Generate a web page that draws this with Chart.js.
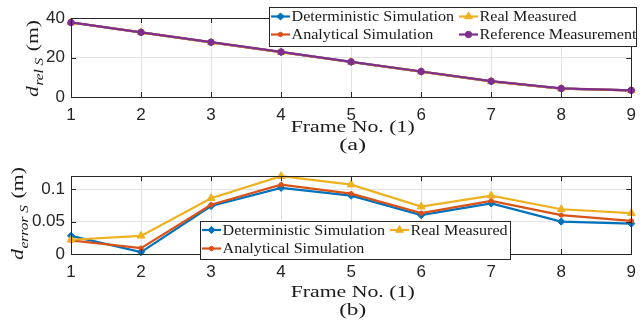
<!DOCTYPE html>
<html>
<head>
<meta charset="utf-8">
<script src="https://cdn.jsdelivr.net/npm/chart.js@4.4.1/dist/chart.umd.min.js"></script>
<style>
    html, body { margin: 0; padding: 0; background: #fff; }
    #wrap { position: relative; width: 644px; height: 328px; overflow: hidden; }
    #chartRel { position: absolute; left: 0; top: 0; }
    #chartErr { position: absolute; left: 0; top: 160px; }
</style>
</head>
<body>
<div id="wrap">
    <canvas id="chartRel" width="644" height="168"></canvas>
    <canvas id="chartErr" width="644" height="168"></canvas>
</div>
<script>
// frame numbers
const frames = ['1', '2', '3', '4', '5', '6', '7', '8', '9'];

// relative distance (m)
const relDeterministic = [37.72, 32.74, 27.68, 22.72, 17.74, 12.86, 7.95, 4.27, 3.33];
const relAnalytical = [37.73, 32.75, 27.67, 22.72, 17.73, 12.86, 7.94, 4.26, 3.33];
const relReal = [37.73, 32.74, 27.66, 22.71, 17.72, 12.85, 7.93, 4.25, 3.32];
const relReference = [37.75, 32.75, 27.75, 22.82, 17.82, 12.92, 8.02, 4.32, 3.38];

// error distance (m)
const errDeterministic = [0.028, 0.003, 0.074, 0.102, 0.090, 0.060, 0.078, 0.050, 0.047];
const errAnalytical = [0.021, 0.009, 0.076, 0.107, 0.093, 0.063, 0.082, 0.060, 0.051];
const errReal = [0.022, 0.028, 0.086, 0.120, 0.107, 0.073, 0.090, 0.069, 0.063];

const SERIF = '"Liberation Serif", "DejaVu Serif", serif';
const SANS = '"Liberation Sans", Arial, sans-serif';
const AXIS = '#262626';
const GRID = '#e2e2e2';
const TEXT = '#1a1a1a';
const LEGEND_STRETCH = 1.12;

// order: lower value is painted on top
const styles = {
    det: { label: 'Deterministic Simulation', color: '#0072BD', pointStyle: 'rectRot', radius: 3.6, order: 3 },
    ana: { label: 'Analytical Simulation', color: '#D95319', pointStyle: 'circle', radius: 2.2, order: 2 },
    real: { label: 'Real Measured', color: '#EDB120', pointStyle: 'triangle', radius: 4.5, order: 1 },
    ref: { label: 'Reference Measurement', color: '#7E2F8E', pointStyle: 'circle', radius: 3.2, order: 0 }
};

const makeSet = function (key, data) {
    let s = styles[key];
    return {
        label: s.label,
        data: data,
        order: s.order,
        borderColor: s.color,
        backgroundColor: s.color,
        pointBackgroundColor: s.color,
        pointBorderColor: s.color,
        pointStyle: s.pointStyle,
        pointRadius: s.radius,
        pointBorderWidth: 1,
        borderWidth: 2.2,
        tension: 0,
        clip: false
    };
};

// text squeezed/stretched to a given width, centred on x
const fitText = function (ctx, text, x, y, font, width) {
    ctx.save();
    ctx.font = font;
    let k = width / ctx.measureText(text).width;
    ctx.translate(x - width / 2, y);
    ctx.scale(k, 1);
    ctx.textAlign = 'left';
    ctx.fillText(text, 0, 0);
    ctx.restore();
};

// y label: italic d with subscript, then upright unit
const drawYTitle = function (ctx, x, yc, len, sub, size) {
    ctx.save();
    ctx.translate(x, yc);
    ctx.rotate(-Math.PI / 2);
    ctx.fillStyle = TEXT;
    ctx.textBaseline = 'alphabetic';
    ctx.textAlign = 'left';
    let fMain = 'italic ' + size + 'px ' + SERIF;
    let fSub = 'italic ' + Math.round(size * 0.72) + 'px ' + SERIF;
    let fUp = size + 'px ' + SERIF;
    ctx.font = fMain; let wd = ctx.measureText('d').width + 0.5;
    ctx.font = fSub; let ws = ctx.measureText(sub).width + 1;
    ctx.font = fUp; let wm = ctx.measureText(' (m)').width;
    let k = len / (wd + ws + wm);
    ctx.translate(-len / 2, 0);
    ctx.scale(k, 1);
    ctx.font = fMain; ctx.fillText('d', 0, 0);
    ctx.font = fSub; ctx.fillText(sub, wd, size * 0.3);
    ctx.font = fUp; ctx.fillText(' (m)', wd + ws, 0);
    ctx.restore();
};

const drawLegend = function (ctx, lg) {
    ctx.save();
    ctx.fillStyle = '#fff';
    ctx.fillRect(lg.box[0], lg.box[1], lg.box[2], lg.box[3]);
    ctx.strokeStyle = AXIS;
    ctx.lineWidth = 1;
    ctx.strokeRect(lg.box[0] + 0.5, lg.box[1] + 0.5, lg.box[2], lg.box[3]);
    ctx.textBaseline = 'middle';
    lg.items.forEach((it) => {
        let s = styles[it.key];
        let x = lg.colX[it.col], y = lg.rowY[it.row];
        ctx.strokeStyle = s.color;
        ctx.fillStyle = s.color;
        ctx.lineWidth = 2.2;
        ctx.beginPath();
        ctx.moveTo(x, y);
        ctx.lineTo(x + lg.sampleW, y);
        ctx.stroke();
        ctx.lineWidth = 1;
        Chart.helpers.drawPoint(ctx, { pointStyle: s.pointStyle, radius: s.radius, rotation: 0, borderWidth: 1 }, x + lg.sampleW / 2, y);
        ctx.fillStyle = TEXT;
        ctx.font = lg.fontSize + 'px ' + SERIF;
        let w = ctx.measureText(s.label).width * LEGEND_STRETCH;
        fitText(ctx, s.label, x + lg.sampleW + 1.5 + w / 2, y + 1, ctx.font, w);
    });
    ctx.restore();
};

// box, inward ticks, titles, legend
const matlabAxes = {
    id: 'matlabAxes',
    afterDraw(chart, args, opts) {
        const ctx = chart.ctx;
        const a = chart.chartArea;
        const xs = chart.scales.x, ys = chart.scales.y;
        ctx.save();
        ctx.strokeStyle = AXIS;
        ctx.lineWidth = 1;
        ctx.beginPath();
        xs.ticks.forEach((t, i) => {
            let px = Math.round(xs.getPixelForTick(i)) + 0.5;
            ctx.moveTo(px, a.bottom); ctx.lineTo(px, a.bottom - 5);
            ctx.moveTo(px, a.top); ctx.lineTo(px, a.top + 5);
        });
        ys.ticks.forEach((t, i) => {
            let py = Math.round(ys.getPixelForTick(i)) + 0.5;
            ctx.moveTo(a.left, py); ctx.lineTo(a.left + 5, py);
            ctx.moveTo(a.right, py); ctx.lineTo(a.right - 5, py);
        });
        ctx.stroke();
        ctx.strokeRect(Math.round(a.left) + 0.5, Math.round(a.top) + 0.5, Math.round(a.right - a.left), Math.round(a.bottom - a.top));

        ctx.fillStyle = TEXT;
        ctx.textBaseline = 'alphabetic';
        let cx = (a.left + a.right) / 2 + 1.5;
        let f = opts.titleSize + 'px ' + SERIF;
        fitText(ctx, 'Frame No. (1)', cx, opts.xTitleY, f, 124);
        fitText(ctx, opts.caption, cx, opts.captionY, f, opts.captionW);
        ctx.restore();

        drawYTitle(ctx, opts.yTitleX, opts.yTitleC, opts.yTitleLen, opts.ySub, opts.titleSize);
        drawLegend(ctx, opts.legend);
    }
};

const buildOptions = function (ymax, step, padTop, xHeight, fmt, extra) {
    return {
        responsive: false,
        animation: false,
        layout: { padding: { top: padTop, right: 8, left: 0, bottom: 0 } },
        plugins: {
            legend: { display: false },
            tooltip: { enabled: false },
            matlabAxes: extra
        },
        scales: {
            x: {
                type: 'category',
                offset: false,
                afterFit: (s) => { s.height = xHeight; },
                grid: { color: GRID, drawTicks: false },
                border: { display: false },
                ticks: { color: AXIS, padding: 8, font: { family: SANS, size: 17 }, maxRotation: 0 }
            },
            y: {
                min: 0,
                max: ymax,
                afterFit: (s) => { s.width = 71; },
                grid: { color: GRID, drawTicks: false },
                border: { display: false },
                ticks: { stepSize: step, includeBounds: false, color: AXIS, padding: 6, font: { family: SANS, size: 17 }, callback: fmt }
            }
        }
    };
};

new Chart(document.getElementById('chartRel'), {
    type: 'line',
    data: {
        labels: frames,
        datasets: [
            makeSet('det', relDeterministic),
            makeSet('ana', relAnalytical),
            makeSet('real', relReal),
            makeSet('ref', relReference)
        ]
    },
    options: buildOptions(40, 20, 18, 71, (v) => String(v), {
        titleSize: 17, xTitleY: 132, caption: '(a)', captionY: 150, captionW: 27,
        yTitleX: 38, yTitleC: 58.5, yTitleLen: 77, ySub: 'rel S',
        legend: {
            box: [269, 7, 367, 39], colX: [271, 459], rowY: [16.5, 34.5], sampleW: 19, fontSize: 14.4,
            items: [
                { key: 'det', col: 0, row: 0 },
                { key: 'ana', col: 0, row: 1 },
                { key: 'real', col: 1, row: 0 },
                { key: 'ref', col: 1, row: 1 }
            ]
        }
    }),
    plugins: [matlabAxes]
});

new Chart(document.getElementById('chartErr'), {
    type: 'line',
    data: {
        labels: frames,
        datasets: [
            makeSet('det', errDeterministic),
            makeSet('ana', errAnalytical),
            makeSet('real', errReal)
        ]
    },
    options: buildOptions(0.12, 0.05, 16, 74, (v) => String(+v.toFixed(3)), {
        titleSize: 17, xTitleY: 136.5, caption: '(b)', captionY: 154.5, captionW: 27,
        yTitleX: 23, yTitleC: 53.5, yTitleLen: 93, ySub: 'error S',
        legend: {
            box: [200, 61, 310, 38], colX: [202, 390], rowY: [70, 88.5], sampleW: 19, fontSize: 14.4,
            items: [
                { key: 'det', col: 0, row: 0 },
                { key: 'ana', col: 0, row: 1 },
                { key: 'real', col: 1, row: 0 }
            ]
        }
    }),
    plugins: [matlabAxes]
});
</script>
</body>
</html>
